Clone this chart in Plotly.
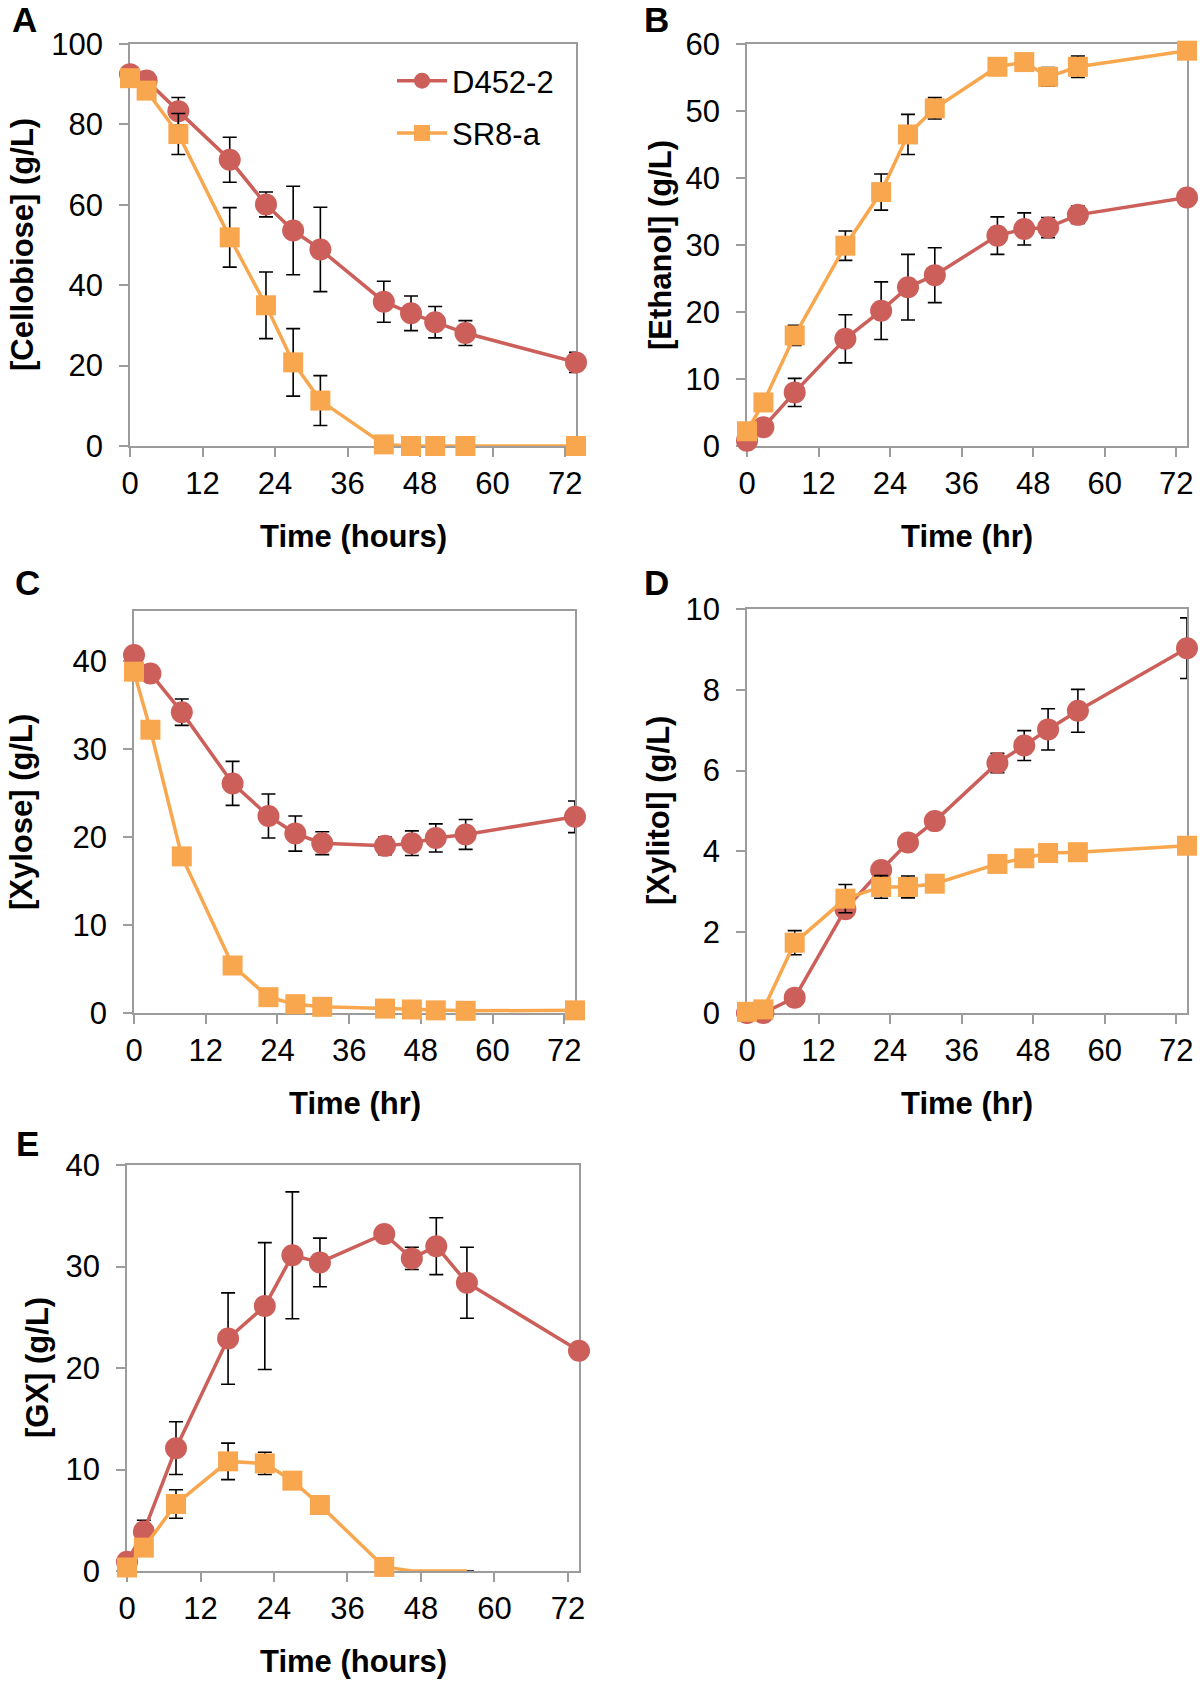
import plotly.graph_objects as go

# ---------------- data ----------------
time_h = [0, 2.75, 8, 16.5, 22.5, 27, 31.5, 42, 46.5, 50.5, 55.5, 73.8]
series_names = ["D452-2", "SR8-a"]

cellobiose_d452 = [92.5, 90.9, 83.3, 71.2, 60.1, 53.6, 48.9, 35.9, 33.0, 30.8, 28.1, 20.8]
cellobiose_d452_err = [0, 0, 3.4, 5.6, 3.1, 11.0, 10.5, 5.1, 4.3, 3.9, 3.1, 2.5]
cellobiose_sr8 = [91.5, 88.4, 77.6, 51.9, 35.0, 20.8, 11.3, 0.4, 0, 0, 0, 0]
cellobiose_sr8_err = [0, 0, 5.1, 7.4, 8.3, 8.4, 6.2, 0, 0, 0, 0, 0]

ethanol_d452 = [0.8, 2.8, 8.0, 16.0, 20.2, 23.7, 25.5, 31.4, 32.4, 32.6, 34.5, 37.1]
ethanol_d452_err = [0, 0, 2.1, 3.6, 4.3, 4.9, 4.1, 2.8, 2.4, 1.5, 1.3, 0]
ethanol_sr8 = [2.2, 6.5, 16.5, 29.9, 37.9, 46.5, 50.4, 56.6, 57.3, 55.1, 56.6, 59.0]
ethanol_sr8_err = [0, 0, 1.5, 2.2, 2.7, 3.0, 1.6, 0, 0.5, 1.4, 1.6, 1.2]

xylose_d452 = [40.7, 38.6, 34.2, 26.1, 22.4, 20.4, 19.3, 19.0, 19.3, 19.9, 20.3, 22.3]
xylose_d452_err = [0, 0, 1.5, 2.5, 2.5, 2.0, 1.3, 1.0, 1.4, 1.6, 1.7, 1.8]
xylose_sr8 = [38.8, 32.2, 17.8, 5.4, 1.8, 1.0, 0.7, 0.5, 0.4, 0.3, 0.25, 0.3]
xylose_sr8_err = [0, 0, 0, 0, 0, 0, 0, 0, 0, 0, 0, 0]

xylitol_d452 = [0.0, 0.0, 0.38, 2.57, 3.54, 4.22, 4.75, 6.19, 6.62, 7.02, 7.48, 9.03]
xylitol_d452_err = [0, 0, 0, 0, 0, 0, 0, 0.24, 0.37, 0.51, 0.53, 0.75]
xylitol_sr8 = [0.03, 0.09, 1.74, 2.83, 3.12, 3.12, 3.2, 3.69, 3.83, 3.96, 3.98, 4.14]
xylitol_sr8_err = [0, 0, 0.3, 0.35, 0.28, 0.27, 0, 0, 0, 0, 0, 0]

gx_d452 = [0.9, 3.9, 12.1, 22.9, 26.1, 31.1, 30.4, 33.2, 30.8, 32.0, 28.4, 21.7]
gx_d452_err = [0, 1.1, 2.6, 4.5, 6.25, 6.25, 2.4, 0, 1.1, 2.8, 3.5, 0]
gx_sr8 = [0.35, 2.3, 6.6, 10.8, 10.6, 8.9, 6.5, 0.4, 0, 0, 0, None]
gx_sr8_err = [0, 0, 1.4, 1.8, 1.1, 0, 0, 0, 0, 0, 0, 0]
gx_sr8_marker_shown = [1, 1, 1, 1, 1, 1, 1, 1, 0, 0, 0, 0]

x_ticks = [0, 12, 24, 36, 48, 60, 72]

# ---------------- styling ----------------
W, H = 1200, 1682
RED = "#CC5F59"
ORANGE = "#F8A74E"
AXIS_GRAY = "#9C9C9C"
FONT = "Liberation Sans, Arial, sans-serif"
TICK_SIZE = 31

panels = [
    dict(letter="A", ylabel="[Cellobiose] (g/L)", xlabel="Time (hours)",
         d452=cellobiose_d452, d452e=cellobiose_d452_err, sr8=cellobiose_sr8, sr8e=cellobiose_sr8_err,
         yrange=[0, 100], dtick=20, box=(130, 576, 44, 446), ytitle_x=23, letter_xy=(24, 20)),
    dict(letter="B", ylabel="[Ethanol] (g/L)", xlabel="Time (hr)",
         d452=ethanol_d452, d452e=ethanol_d452_err, sr8=ethanol_sr8, sr8e=ethanol_sr8_err,
         yrange=[0, 60], dtick=10, box=(747, 1187, 44, 446), ytitle_x=661, letter_xy=(656, 20)),
    dict(letter="C", ylabel="[Xylose] (g/L)", xlabel="Time (hr)",
         d452=xylose_d452, d452e=xylose_d452_err, sr8=xylose_sr8, sr8e=xylose_sr8_err,
         yrange=[0, 45.7], dtick=10, box=(134, 575, 611, 1013), ytitle_x=21, letter_xy=(27, 582)),
    dict(letter="D", ylabel="[Xylitol] (g/L)", xlabel="Time (hr)",
         d452=xylitol_d452, d452e=xylitol_d452_err, sr8=xylitol_sr8, sr8e=xylitol_sr8_err,
         yrange=[0, 10], dtick=2, box=(747, 1187, 609, 1013), ytitle_x=658, letter_xy=(656, 582)),
    dict(letter="E", ylabel="[GX] (g/L)", xlabel="Time (hours)",
         d452=gx_d452, d452e=gx_d452_err, sr8=gx_sr8, sr8e=gx_sr8_err,
         yrange=[0, 40], dtick=10, box=(127, 579, 1165, 1571), ytitle_x=37, letter_xy=(27, 1143)),
]

fig = go.Figure()
layout = dict(
    template="none",
    width=W, height=H, margin=dict(l=0, r=0, t=0, b=0, pad=0, autoexpand=False),
    paper_bgcolor="white", plot_bgcolor="white",
    font=dict(family=FONT, color="black", size=30),
    showlegend=True,
    legend=dict(x=392 / W, y=1 - 54 / H, xanchor="left", yanchor="top",
                bgcolor="rgba(0,0,0,0)", borderwidth=0, font=dict(size=31, family=FONT),
                tracegroupgap=9, itemwidth=50),
)
annotations = []

for i, p in enumerate(panels):
    n = i + 1
    xa = "xaxis" if n == 1 else f"xaxis{n}"
    ya = "yaxis" if n == 1 else f"yaxis{n}"
    xr = "x" if n == 1 else f"x{n}"
    yr = "y" if n == 1 else f"y{n}"
    l, r, t, b = p["box"]
    layout[xa] = dict(
        domain=[l / W, r / W], range=[0, 73.8], anchor=yr, automargin=False,
        tickmode="array", tickvals=x_ticks, ticks="outside", ticklen=9, tickwidth=1.5,
        tickcolor=AXIS_GRAY, showline=True, linecolor=AXIS_GRAY, linewidth=1.5, mirror=True,
        showgrid=False, zeroline=False, layer="below traces",
        tickfont=dict(size=TICK_SIZE, family=FONT, color="black"), ticklabelstandoff=0,
    )
    layout[ya] = dict(
        domain=[1 - b / H, 1 - t / H], range=p["yrange"], anchor=xr, automargin=False,
        tick0=0, dtick=p["dtick"], ticks="outside", ticklen=9, tickwidth=1.5,
        tickcolor=AXIS_GRAY, showline=True, linecolor=AXIS_GRAY, linewidth=1.5, mirror=True,
        showgrid=False, zeroline=False, layer="below traces",
        tickfont=dict(size=TICK_SIZE, family=FONT, color="black"), ticklabelstandoff=10,
    )
    if p["letter"] == "C":
        layout[ya]["tickvals"] = [0, 10, 20, 30, 40]
        layout[ya]["tickmode"] = "array"

    sr8_opacity = 1
    if p["letter"] == "E":
        sr8_opacity = [1.0 if s else 0.0 for s in gx_sr8_marker_shown]

    fig.add_trace(go.Scatter(
        x=time_h, y=p["d452"], name=series_names[0], xaxis=xr, yaxis=yr,
        mode="lines+markers", cliponaxis=False,
        line=dict(color=RED, width=3.5),
        marker=dict(symbol="circle", size=22, color=RED, opacity=1),
        error_y=dict(type="data", array=p["d452e"], color="black", thickness=1.6, width=7),
        legendgroup="d452", showlegend=(n == 1),
    ))
    fig.add_trace(go.Scatter(
        x=time_h, y=p["sr8"], name=series_names[1], xaxis=xr, yaxis=yr,
        mode="lines+markers", cliponaxis=False,
        line=dict(color=ORANGE, width=3.5),
        marker=dict(symbol="square", size=20, color=ORANGE, opacity=sr8_opacity),
        error_y=dict(type="data", array=p["sr8e"], color="black", thickness=1.6, width=7),
        legendgroup="sr8", showlegend=(n == 1),
    ))

    # axis titles
    annotations.append(dict(
        text=f"<b>{p['xlabel']}</b>", xref="paper", yref="paper",
        x=(l + r) / 2 / W, y=1 - (b + 90) / H, xanchor="center", yanchor="middle",
        showarrow=False, font=dict(size=31, family=FONT, color="black"),
    ))
    annotations.append(dict(
        text=f"<b>{p['ylabel']}</b>", xref="paper", yref="paper",
        x=p["ytitle_x"] / W, y=1 - (t + b) / 2 / H, xanchor="center", yanchor="middle",
        textangle=-90, showarrow=False, font=dict(size=31, family=FONT, color="black"),
    ))
    annotations.append(dict(
        text=f"<b>{p['letter']}</b>", xref="paper", yref="paper",
        x=p["letter_xy"][0] / W, y=1 - p["letter_xy"][1] / H, xanchor="center", yanchor="middle",
        showarrow=False, font=dict(size=35, family=FONT, color="black"),
    ))

layout["annotations"] = annotations
fig.update_layout(**layout)
fig.write_html("out.html", config={"displayModeBar": False},
               post_script="document.body.style.margin='0';")
